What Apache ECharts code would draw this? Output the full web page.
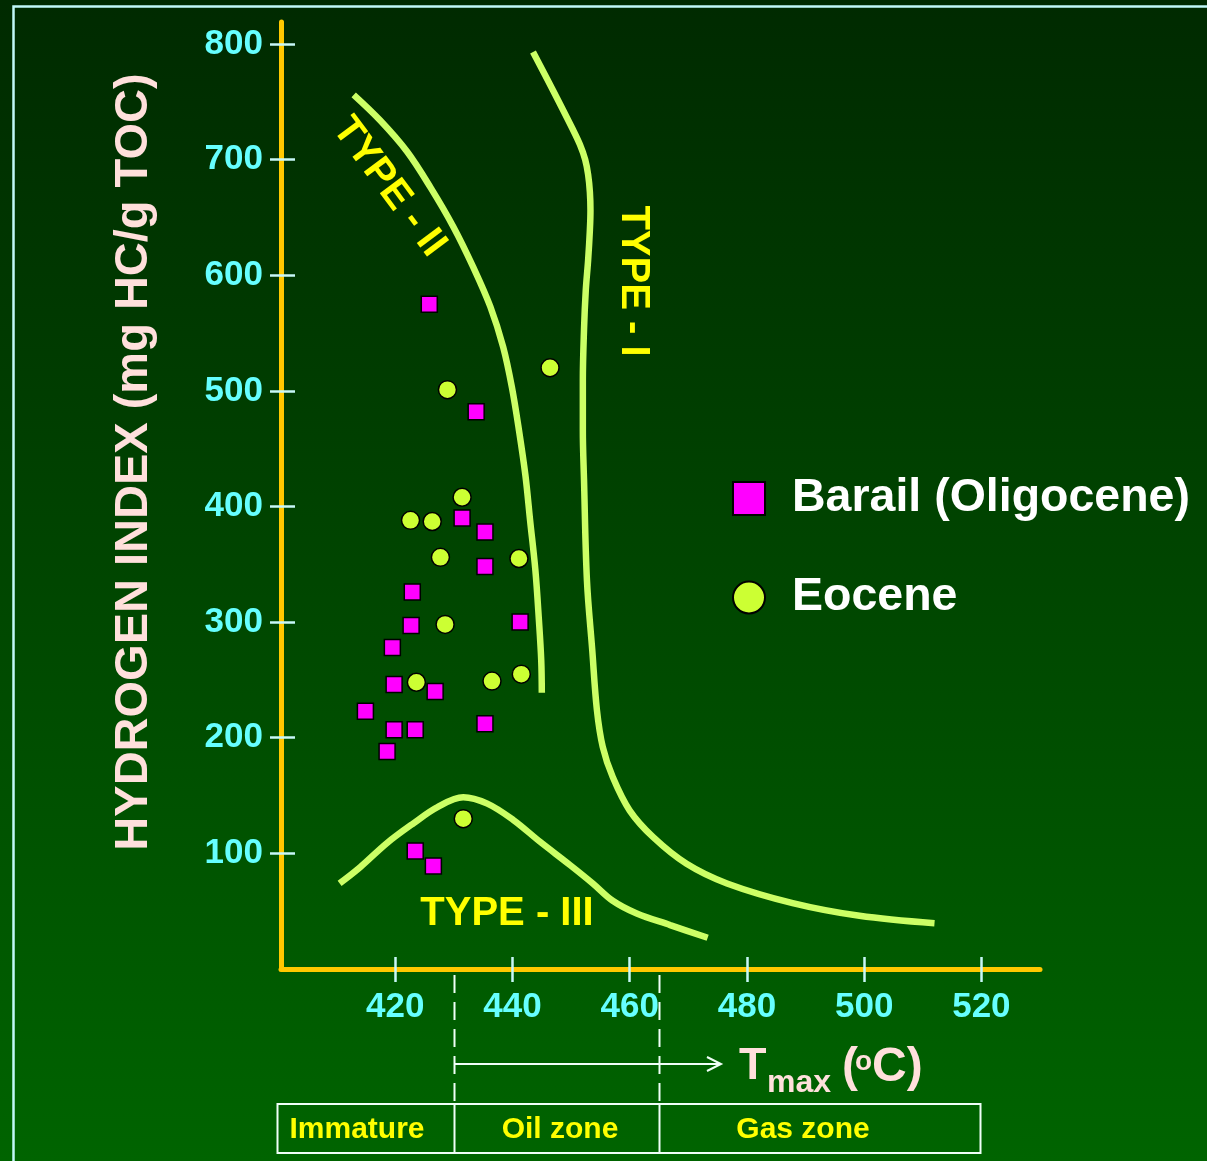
<!DOCTYPE html>
<html>
<head>
<meta charset="utf-8">
<script src="https://cdn.jsdelivr.net/npm/echarts@6/dist/echarts.min.js"></script>
<style>
html,body{margin:0;padding:0;background:#003000;}
#c{width:1207px;height:1161px;background:linear-gradient(180deg,#002a00 0%,#004600 50%,#006400 100%);}
</style>
</head>
<body>
<div id="c"></div>
<script>
// ---- data ----
const xTicks = [420, 440, 460, 480, 500, 520];
const yTicks = [100, 200, 300, 400, 500, 600, 700, 800];

const barailPoints = [
  [425.8, 575], [433.8, 482], [431.4, 390], [435.3, 378], [435.3, 348],
  [422.9, 326], [422.7, 297], [441.3, 300], [419.5, 278], [419.8, 246],
  [426.8, 240], [414.9, 223], [419.8, 207], [423.4, 207], [435.3, 212],
  [418.6, 188], [423.4, 102], [426.5, 89]
];
const eocenePoints = [
  [446.4, 520], [428.9, 501], [431.4, 408], [422.6, 388], [426.3, 387],
  [427.7, 356], [441.1, 355], [428.5, 298], [423.6, 248], [436.5, 249],
  [441.5, 255], [431.6, 130]
];
const typeICurve = [
  [443.5, 793], [446.9, 760], [450.3, 726], [451.5, 713], [452.4, 700],
  [452.9, 687], [453.2, 672], [453.3, 656], [453.2, 639], [452.9, 613],
  [452.5, 587], [452.2, 553], [452.0, 509], [452.0, 466], [452.2, 423],
  [452.7, 336], [453.6, 276], [454.4, 224], [455.4, 192], [457.1, 166],
  [460.0, 137], [464.0, 114], [469.7, 91], [476.6, 74], [487.8, 57],
  [499.2, 46], [512.0, 39.5]
];
const typeIICurve = [
  [412.9, 756], [417.4, 734], [422.0, 707], [426.0, 676], [429.9, 642],
  [433.3, 607], [436.2, 573], [438.4, 538], [439.9, 503], [441.1, 466],
  [442.2, 427], [443.0, 388], [443.9, 345], [444.5, 302], [444.9, 267],
  [445.0, 239]
];
const typeIIICurve = [
  [410.5, 74], [414.0, 88], [418.6, 109], [423.1, 126], [427.2, 140],
  [431.6, 148.5], [435.7, 143], [440.1, 129], [444.7, 110], [449.8, 90],
  [453.7, 74], [457.1, 59], [461.2, 48], [466.9, 38], [473.3, 27]
];
const zoneEdges = [400, 430, 465, 520];
const zoneNames = ['Immature', 'Oil zone', 'Gas zone'];
const seriesNames = ['Barail (Oligocene)', 'Eocene'];

// ---- chart ----
const FF = '"Liberation Sans", Arial, Helvetica, sans-serif';
const chart = echarts.init(document.getElementById('c'), null, {renderer: 'canvas'});
const tickColor = '#c8f8f8';
const axisColor = '#ffc800';

const curveStyle = {color: '#ccff66', width: 6.5};
function curve(name, data) {
  return {type: 'line', name: name, data: data, smooth: 0.35, showSymbol: false,
    symbol: 'none', lineStyle: curveStyle, z: 2, silent: true};
}

chart.setOption({
  animation: false,
  backgroundColor: 'transparent',
  grid: {left: 281, right: 167, top: 22, bottom: 192, containLabel: false, outerBoundsMode: 'none'},
  xAxis: [{
    type: 'value', min: 400.5, max: 530, position: 'bottom',
    axisLine: {show: true, onZero: false, lineStyle: {color: axisColor, width: 5}},
    axisTick: {show: true, inside: false, length: 13, customValues: xTicks, lineStyle: {color: tickColor, width: 2.5}},
    axisLabel: {show: true, customValues: xTicks, margin: 21, color: '#66ffff', fontSize: 35, fontWeight: 'bold', fontFamily: FF},
    splitLine: {show: false}
  }, {
    type: 'value', min: 400.5, max: 530, position: 'bottom',
    axisLine: {show: false, onZero: false},
    axisTick: {show: true, inside: true, length: 12, customValues: xTicks, lineStyle: {color: tickColor, width: 2.5}},
    axisLabel: {show: false}, splitLine: {show: false}
  }],
  yAxis: [{
    type: 'value', min: 0, max: 819, position: 'left',
    axisLine: {show: true, onZero: false, lineStyle: {color: axisColor, width: 5}},
    axisTick: {show: true, inside: false, length: 11, customValues: yTicks, lineStyle: {color: tickColor, width: 2.5}},
    axisLabel: {show: true, customValues: yTicks, margin: 18, color: '#66ffff', fontSize: 35, fontWeight: 'bold', fontFamily: FF},
    splitLine: {show: false}
  }, {
    type: 'value', min: 0, max: 819, position: 'left',
    axisLine: {show: false, onZero: false},
    axisTick: {show: true, inside: true, length: 14, customValues: yTicks, lineStyle: {color: tickColor, width: 2.5}},
    axisLabel: {show: false}, splitLine: {show: false}
  }],
  legend: {
    orient: 'vertical', left: 727, top: 470, itemWidth: 32, itemHeight: 33, itemGap: 52,
    selectedMode: false,
    data: [{name: seriesNames[0], icon: 'rect'}, {name: seriesNames[1], icon: 'circle'}],
    itemStyle: {borderColor: '#000', borderWidth: 2},
    textStyle: {color: '#ffffff', fontSize: 46.5, fontWeight: 'bold', fontFamily: FF, padding: [0, 0, 0, 22]}
  },
  series: [
    curve('TYPE - I', typeICurve),
    curve('TYPE - II', typeIICurve),
    curve('TYPE - III', typeIIICurve),
    {type: 'scatter', name: seriesNames[0], data: barailPoints, symbol: 'rect', symbolSize: 16, z: 4,
      itemStyle: {color: '#ff00ff', borderColor: '#000', borderWidth: 1.5, opacity: 1}},
    {type: 'scatter', name: seriesNames[1], data: eocenePoints, symbol: 'circle', symbolSize: 18, z: 4,
      itemStyle: {color: '#ccff33', borderColor: '#000', borderWidth: 1.5, opacity: 1}}
  ]
});

// ---- annotations placed from axis scale ----
const px = v => chart.convertToPixel({xAxisIndex: 0}, v);
const py = v => chart.convertToPixel({yAxisIndex: 0}, v);
const axisY = py(0);
const boxTop = 1104, boxBottom = 1153, arrowY = 1064;
const white = '#f0fff8';
const pink = '#ffe0dc';
const yellow = '#ffff00';

const g = [];
// outer frame
g.push({type: 'rect', silent: true, z: 0, shape: {x: 13.5, y: 6.5, width: 1260, height: 1260},
  style: {fill: 'none', stroke: '#c0f8f8', lineWidth: 2.5}});
// y-axis title
g.push({type: 'text', silent: true, x: 134, y: 462, rotation: Math.PI / 2,
  style: {text: 'HYDROGEN INDEX (mg HC/g TOC)', font: 'bold 47px ' + FF, fill: pink, align: 'center', verticalAlign: 'middle'}});
// curve labels
g.push({type: 'text', silent: true, x: 389, y: 187, rotation: -0.93,
  style: {text: 'TYPE - II', font: 'bold 40px ' + FF, fill: yellow, align: 'center', verticalAlign: 'middle'}});
g.push({type: 'text', silent: true, x: 633, y: 281, rotation: -Math.PI / 2,
  style: {text: 'TYPE - I', font: 'bold 40px ' + FF, fill: yellow, align: 'center', verticalAlign: 'middle'}});
g.push({type: 'text', silent: true, x: 507, y: 914,
  style: {text: 'TYPE - III', font: 'bold 40px ' + FF, fill: yellow, align: 'center', verticalAlign: 'middle'}});
// maturity boundaries (dashed)
[zoneEdges[1], zoneEdges[2]].forEach(v => {
  const x = Math.round(px(v)) + 0.5;
  g.push({type: 'line', silent: true, shape: {x1: x, y1: axisY + 6, x2: x, y2: boxTop},
    style: {stroke: white, lineWidth: 2, lineDash: [18, 9]}});
  g.push({type: 'line', silent: true, shape: {x1: x, y1: boxTop, x2: x, y2: boxBottom},
    style: {stroke: white, lineWidth: 2}});
});
// arrow
const ax0 = Math.round(px(zoneEdges[1])) + 0.5;
g.push({type: 'line', silent: true, shape: {x1: ax0, y1: arrowY, x2: 720, y2: arrowY},
  style: {stroke: white, lineWidth: 2}});
g.push({type: 'polyline', silent: true, shape: {points: [[707, arrowY - 7], [721, arrowY], [707, arrowY + 7]]},
  style: {stroke: white, lineWidth: 2, fill: 'none'}});
// Tmax (oC)
g.push({type: 'text', silent: true, x: 739, y: 1067,
  style: {text: 'T', font: 'bold 45px ' + FF, fill: pink, align: 'left', verticalAlign: 'middle'}});
g.push({type: 'text', silent: true, x: 767, y: 1083,
  style: {text: 'max', font: 'bold 32px ' + FF, fill: pink, align: 'left', verticalAlign: 'middle'}});
g.push({type: 'text', silent: true, x: 842, y: 1068,
  style: {text: '(', font: 'bold 48px ' + FF, fill: pink, align: 'left', verticalAlign: 'middle'}});
g.push({type: 'text', silent: true, x: 855, y: 1062,
  style: {text: 'o', font: 'bold 28px ' + FF, fill: pink, align: 'left', verticalAlign: 'middle'}});
g.push({type: 'text', silent: true, x: 872, y: 1068,
  style: {text: 'C)', font: 'bold 48px ' + FF, fill: pink, align: 'left', verticalAlign: 'middle'}});
// zone table
const bx0 = Math.round(px(zoneEdges[0])) - 0.5, bx1 = Math.round(px(zoneEdges[3])) - 0.5;
g.push({type: 'rect', silent: true, shape: {x: bx0, y: boxTop, width: bx1 - bx0, height: boxBottom - boxTop},
  style: {fill: 'none', stroke: white, lineWidth: 2}});
const zoneTextX = [357, 560, 803];
zoneNames.forEach((n, i) => {
  g.push({type: 'text', silent: true, x: zoneTextX[i], y: (boxTop + boxBottom) / 2 + 1,
    style: {text: n, font: 'bold 30px ' + FF, fill: yellow, align: 'center', verticalAlign: 'middle'}});
});

chart.setOption({graphic: g});
</script>
</body>
</html>
